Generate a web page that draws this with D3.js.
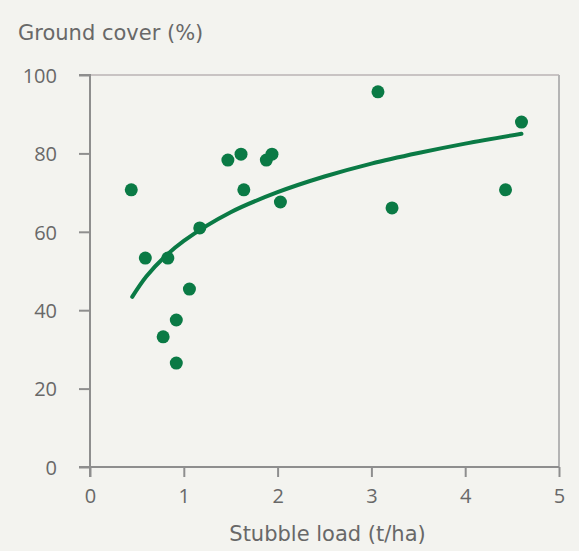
<!DOCTYPE html>
<html><head><meta charset="utf-8">
<script src="https://cdn.jsdelivr.net/npm/d3@7"></script>
<style>
html,body{margin:0;padding:0;background:#f3f3ef;}
</style></head>
<body><svg id="c" width="579" height="551"></svg>
<script>
// Data
const stubbleLoad = [0.44,0.59,0.83,0.78,0.92,0.92,1.06,1.17,1.47,1.61,1.64,1.88,1.94,2.03,3.07,3.22,4.43,4.60];
const groundCover = [70.7,53.3,53.3,33.2,37.5,26.5,45.4,61.0,78.3,79.8,70.7,78.3,79.8,67.6,95.7,66.1,70.7,88.0];
const trendX = [0.45,0.6,0.8,1.0,1.5,2.0,2.5,3.0,3.5,4.0,4.6];
const trendY = [43.4,48.6,53.7,57.7,65.0,70.1,74.1,77.4,80.1,82.5,85.0];
const xTicks = [0,1,2,3,4,5];
const yTicks = [0,20,40,60,80,100];

const green = "#0a7a45";
const textCol = "#686868";
const svg = d3.select("#c");
const x = d3.scaleLinear().domain([0,5]).range([90,559]);
const y = d3.scaleLinear().domain([0,100]).range([467,75]);

// box: top and right borders
svg.append("line").attr("x1",x(0)).attr("x2",x(5)).attr("y1",y(100)).attr("y2",y(100))
  .attr("stroke","#c8c3c3").attr("stroke-width",2);
svg.append("line").attr("x1",x(5)).attr("x2",x(5)).attr("y1",y(100)).attr("y2",y(0))
  .attr("stroke","#b4b4b4").attr("stroke-width",2);

const xAxis = svg.append("g").attr("transform",`translate(0,${y(0)})`)
  .call(d3.axisBottom(x).tickValues(xTicks).tickSize(10).tickPadding(12).tickFormat(d3.format("d")));
const yAxis = svg.append("g").attr("transform",`translate(${x(0)},0)`)
  .call(d3.axisLeft(y).tickValues(yTicks).tickSize(11).tickPadding(21).tickFormat(d3.format("d")));
[xAxis,yAxis].forEach(g=>{
  g.select(".domain").attr("stroke","#8e8e8e").attr("stroke-width",2);
  g.selectAll(".tick line").attr("stroke","#8e8e8e").attr("stroke-width",2);
  g.selectAll(".tick text").attr("font-family","'Open Sans',sans-serif")
    .attr("font-size",20).attr("fill",textCol);
});
yAxis.select(".domain").attr("d",`M-11,${y(100)}H0V${y(0)+10}`);
xAxis.select(".domain").attr("d",`M${x(0)-11},0H${x(5)}`);
yAxis.selectAll(".tick text").attr("x",-33).attr("dy","0.36em").attr("text-anchor","end");
xAxis.selectAll(".tick text").attr("y",22).attr("dy","0.71em").attr("text-anchor","middle");

// trend line
const pts = trendX.map((v,i)=>[v,trendY[i]]);
svg.append("path").datum(pts)
  .attr("d",d3.line().x(d=>x(d[0])).y(d=>y(d[1])).curve(d3.curveCatmullRom))
  .attr("fill","none").attr("stroke",green).attr("stroke-width",4).attr("stroke-linecap","round");

// points
svg.append("g").selectAll("circle").data(stubbleLoad).join("circle")
  .attr("cx",d=>x(d)).attr("cy",(d,i)=>y(groundCover[i])).attr("r",6.5).attr("fill",green);

// titles
svg.append("text").attr("x",18).attr("y",40)
  .attr("font-family","'DejaVu Sans',sans-serif").attr("font-size",21).attr("fill",textCol)
  .text("Ground cover (%)");
svg.append("text").attr("x",(x(0)+x(5))/2+3).attr("y",541).attr("text-anchor","middle")
  .attr("font-family","'DejaVu Sans',sans-serif").attr("font-size",21).attr("fill",textCol)
  .text("Stubble load (t/ha)");
</script></body></html>
